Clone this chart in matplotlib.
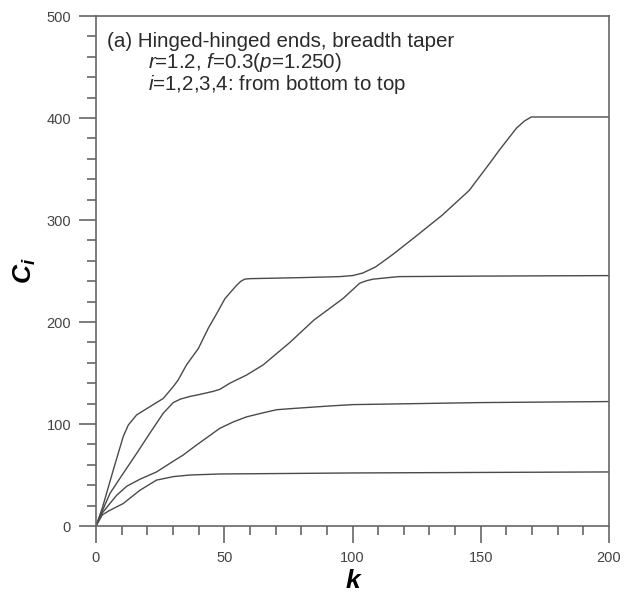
import numpy as np
import matplotlib
matplotlib.use("Agg")
import matplotlib.pyplot as plt
from matplotlib.ticker import MultipleLocator

plt.rcParams['font.family'] = ['Liberation Sans', 'DejaVu Sans']
plt.rcParams['mathtext.fontset'] = 'custom'
plt.rcParams['mathtext.rm'] = 'Liberation Sans'
plt.rcParams['mathtext.it'] = 'Liberation Sans:italic'
plt.rcParams['mathtext.bf'] = 'Liberation Sans:bold:italic'

# ---- data (i = 1..4, bottom to top) ----
k1 = [0, 2.5, 5.5, 10.6, 17.1, 23.6, 30.1, 36.6, 48.3, 75, 100, 150, 200]
c1 = [0, 11, 15.5, 22, 35, 45, 48.4, 50, 51, 51.5, 52, 52.5, 53]

k2 = [0, 2.5, 8, 12, 17.1, 23.6, 28.8, 34, 39.2, 48.3, 53.5, 58.7, 65.2,
      70.4, 75.6, 90, 100, 125, 150, 200]
c2 = [0, 13, 30, 39, 45.8, 53, 61.4, 69.6, 79.4, 95.8, 102, 107, 111,
      114, 115, 117.5, 119, 120, 121, 122]

k3 = [0, 2.5, 5.45, 10.6, 15.8, 21, 26.2, 30.1, 33, 36.6, 40.5, 45.7, 48.3,
      52.2, 58.7, 65.2, 70.4, 75.6, 85, 96.3, 102.8, 105.5, 108, 118, 150, 200]
c3 = [0, 15, 32, 51.6, 71, 91, 110.5, 121, 124.5, 127, 129, 132, 134,
      140, 148, 158, 169, 180, 202, 223, 238, 240.5, 242, 244.5, 245, 245.5]

k4 = [0, 2.5, 6.75, 10.6, 12.6, 15.8, 21, 26.2, 30.1, 32, 35.3, 39.9, 43.8,
      47, 50.3, 54.8, 56.5, 58, 60, 80, 95, 100, 104, 109, 115.6, 124.7,
      135.1, 145.5, 153.3, 157.4, 163.9, 167, 169.7, 200]
c4 = [0, 18, 55, 87.6, 99, 108.8, 117, 125, 136.6, 143, 158, 174, 194,
      208, 223, 236, 240, 242, 242.5, 243.5, 244.5, 245.5, 248, 254, 266, 284,
      305, 329, 355, 369, 390, 397, 401, 401]

curves = [(k1, c1), (k2, c2), (k3, c3), (k4, c4)]

fig = plt.figure(figsize=(6.31, 5.96), dpi=100)
ax = fig.add_axes([96 / 631, 70 / 596, 513 / 631, 510 / 596])

for kk, cc in curves:
    ax.plot(kk, cc, color="#4a4a4a", lw=1.0)

ax.set_xlim(0, 200)
ax.set_ylim(0, 500)
ax.xaxis.set_major_locator(MultipleLocator(50))
ax.xaxis.set_minor_locator(MultipleLocator(10))
ax.yaxis.set_major_locator(MultipleLocator(100))
ax.yaxis.set_minor_locator(MultipleLocator(20))
ax.tick_params(which="both", direction="out", top=False, right=False,
               colors="#666666", width=1.2, labelcolor="#444444", labelsize=10.5)
ax.tick_params(which="major", length=12, pad=6)
ax.tick_params(which="minor", length=6.5)
for sp in ax.spines.values():
    sp.set_color("#666666")
    sp.set_linewidth(1.2)

ax.set_xlabel("k", fontsize=19, fontweight="bold", fontstyle="italic", labelpad=3)
ax.set_ylabel(r"$\mathbf{C}_\mathbf{i}$", fontsize=19, labelpad=6)

tx = dict(transform=ax.transAxes, fontsize=14.8, color="#2a2a2a", va="center")
ax.text(11 / 513, 1 - 25.5 / 510, "(a) Hinged-hinged ends, breadth taper", **tx)
ax.text(52 / 513, 1 - 47 / 510, r"$\mathit{r}$=1.2, $\mathit{f}$=0.3($\mathit{p}$=1.250)", **tx)
ax.text(52 / 513, 1 - 68.5 / 510, r"$\mathit{i}$=1,2,3,4: from bottom to top", **tx)

fig.savefig("out.png", dpi=100)
